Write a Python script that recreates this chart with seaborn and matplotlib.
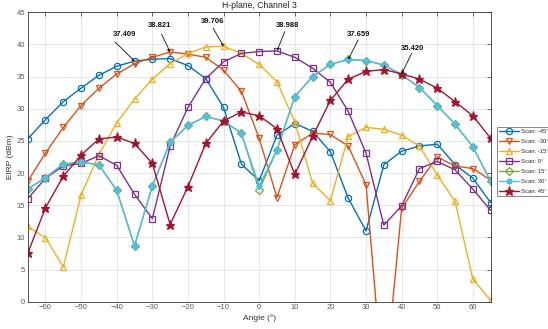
import matplotlib
matplotlib.use("Agg")
import matplotlib.pyplot as plt
import seaborn as sns
import pandas as pd

angles = [-65, -60, -55, -50, -45, -40, -35, -30, -25, -20, -15, -10, -5, 0,
          5, 10, 15, 20, 25, 30, 35, 40, 45, 50, 55, 60, 65]

scan_m45 = [25.3, 28.3, 31.1, 33.2, 35.2, 36.6, 37.409, 37.7, 37.8, 36.7, 34.7, 30.2, 21.4, 18.8,
            25.9, 27.7, 26.5, 23.3, 16.1, 11.0, 21.3, 23.4, 24.2, 24.5, 21.3, 19.2, 15.4]
scan_m30 = [18.7, 23.1, 27.1, 30.5, 33.2, 35.4, 37.0, 38.0, 38.821, 38.5, 38.0, 36.0, 32.7, 25.4,
            16.2, 24.4, 26.2, 26.0, 24.2, 18.2, -14.4, 14.5, 18.7, 22.5, 21.1, 20.7, 18.9]
scan_m15 = [11.7, 9.95, 5.4, 16.6, 22.9, 27.8, 31.5, 34.6, 37.0, 38.6, 39.6, 39.706, 38.6, 36.9,
            34.2, 28.0, 18.4, 15.7, 25.7, 27.1, 26.8, 25.9, 24.2, 19.7, 15.6, 3.5, 0.2]
scan_0 = [16.0, 19.2, 21.1, 21.5, 22.7, 21.2, 16.7, 12.9, 24.2, 30.2, 34.7, 37.3, 38.6, 38.9,
          38.988, 38.0, 36.3, 34.1, 29.6, 23.1, 11.9, 14.9, 20.7, 21.8, 20.5, 17.5, 14.2]
scan_15 = [17.5, 19.3, 21.4, 21.7, 21.3, 17.3, 8.7, 18.0, 24.8, 27.4, 28.8, 28.1, 26.2, 17.4,
           23.6, 31.9, 35.0, 36.9, 37.659, 37.5, 36.8, 35.3, 33.3, 30.5, 27.6, 24.1, 18.7]
scan_30 = [17.5, 19.3, 21.4, 21.7, 21.3, 17.3, 8.7, 18.0, 24.8, 27.4, 28.8, 28.1, 26.2, 18.0,
           23.6, 31.9, 35.0, 36.9, 37.659, 37.5, 36.8, 35.3, 33.3, 30.5, 27.6, 24.1, 18.7]
scan_45 = [7.5, 14.6, 19.5, 22.8, 25.3, 25.6, 24.6, 21.5, 12.0, 17.9, 24.6, 28.1, 29.5, 28.9,
           26.9, 19.8, 25.7, 31.3, 34.6, 35.8, 36.1, 35.420, 34.6, 33.2, 31.1, 28.9, 25.4]

labels = ["Scan: -45°", "Scan: -30°", "Scan: -15°", "Scan: 0°", "Scan: 15°", "Scan: 30°", "Scan: 45°"]

# annotations: label text, point angle, point value
ann_text = ["37.409", "38.821", "39.706", "38.988", "37.659", "35.420"]
ann_x = [-35, -25, -10, 5, 25, 40]
ann_y = [37.409, 38.821, 39.706, 38.988, 37.659, 35.420]

series = [scan_m45, scan_m30, scan_m15, scan_0, scan_15, scan_30, scan_45]
colors = ["#0072BD", "#D95319", "#EDB120", "#7E2F8E", "#77AC30", "#4DBEEE", "#A2142F"]
markers = ["o", "v", "^", "s", "D", (8, 2, 0), "*"]
msizes = [4.5, 5, 5, 3.8, 3.6, 4.5, 6.5]
filled = [False, False, False, False, False, False, True]

# text / arrow-tail positions (data coords)
txt_pos = [(-37.8, 41.5), (-27.9, 42.9), (-13.0, 43.55), (8.1, 42.9), (28.0, 41.6), (43.0, 39.4)]
tail_pos = [(-40.5, 40.4), (-27.4, 41.6), (-12.9, 42.5), (7.2, 42.0), (27.8, 40.7), (42.8, 38.6)]

sns.set_theme(style="white")
plt.rcParams['font.family'] = ['Liberation Sans', 'DejaVu Sans']

fig = plt.figure(figsize=(5.48, 3.29), dpi=100)
ax = fig.add_axes([0.0505, 0.083, 0.8449, 0.8797])

for vals, lab, c, m, ms, f in zip(series, labels, colors, markers, msizes, filled):
    df = pd.DataFrame({"Angle": angles, "EIRP": vals})
    sns.lineplot(data=df, x="Angle", y="EIRP", ax=ax, color=c, marker=m,
                 markersize=ms, markerfacecolor=(c if f else "none"),
                 markeredgecolor=c, markeredgewidth=0.9, linewidth=1.0,
                 label=lab, clip_on=True)

ax.set_xlim(-65, 65)
ax.set_ylim(0, 45)
ax.set_xticks([-60, -50, -40, -30, -20, -10, 0, 10, 20, 30, 40, 50, 60])
ax.set_yticks([0, 5, 10, 15, 20, 25, 30, 35, 40, 45])
ax.grid(True, color="#e3e3e3", linewidth=0.6)
ax.set_axisbelow(True)
ax.tick_params(direction="in", length=3, width=0.5, top=True, right=True,
               labelsize=5.5, colors="#333333", labelcolor="#5a5a5a", pad=2)
for s in ax.spines.values():
    s.set_color("#333333")
    s.set_linewidth(0.6)

ax.set_xlabel("Angle (°)", fontsize=6, color="#333333", labelpad=2)
ax.set_ylabel("EIRP (dBm)", fontsize=6, color="#333333", labelpad=2)
ax.set_title("H-plane, Channel 3", fontsize=6.2, color="#222222", pad=3)

for t, (tx, ty), (ax0, ay0), px, py in zip(ann_text, txt_pos, tail_pos, ann_x, ann_y):
    ax.text(tx, ty, t, fontsize=5.5, fontweight="bold", ha="center", va="center", color="#111111")
    ax.annotate("", xy=(px, py), xytext=(ax0, ay0),
                arrowprops=dict(arrowstyle="-|>", color="#111111", lw=0.6,
                                mutation_scale=3, shrinkA=0, shrinkB=0))

leg = ax.legend(loc="upper left", bbox_to_anchor=(0.907, 0.614),
                bbox_transform=fig.transFigure, fontsize=4.2, frameon=True,
                fancybox=False, edgecolor="#333333", handlelength=3.4,
                labelspacing=0.85, borderpad=0.35, handletextpad=0.35,
                borderaxespad=0)
leg.get_frame().set_linewidth(0.5)

fig.savefig("out.png", dpi=100)
